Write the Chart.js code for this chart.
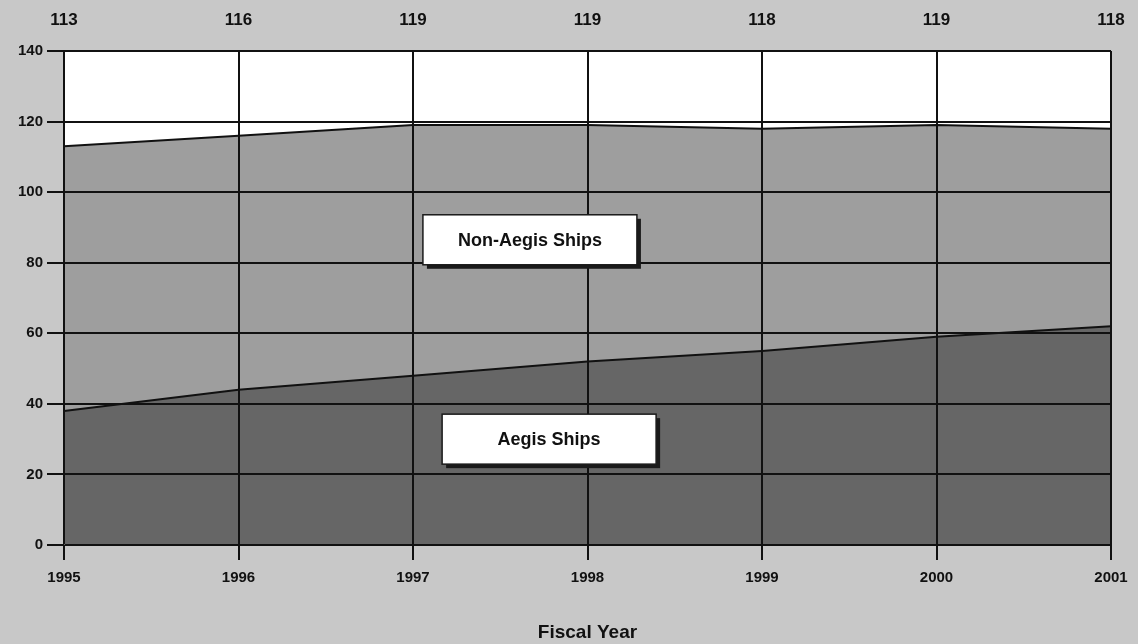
<!DOCTYPE html>
<html>
<head>
<meta charset="utf-8">
<script src="https://cdn.jsdelivr.net/npm/chart.js@4"></script>
<style>
  html, body { margin: 0; padding: 0; background: #c8c8c8; }
  #wrap { width: 1138px; height: 644px; }
</style>
</head>
<body>
<div id="wrap"><canvas id="shipsChart" width="1138" height="644"></canvas></div>
<script>
// Fiscal years and ship counts
const years = ["1995", "1996", "1997", "1998", "1999", "2000", "2001"];
const totals = [113, 116, 119, 119, 118, 119, 118];
const aegis = [38, 44, 48, 52, 55, 59, 62];
const nonAegis = totals.map((t, i) => t - aegis[i]);

const labelFont = { family: "'Liberation Sans', Arial, sans-serif", weight: "bold" };

// white plot background behind the areas
const plotBg = {
    id: "plotBg",
    beforeDraw(chart) {
        const { ctx, chartArea: a } = chart;
        ctx.save();
        ctx.fillStyle = "#ffffff";
        ctx.fillRect(a.left, a.top, a.right - a.left, a.bottom - a.top);
        ctx.restore();
    }
};

// grid lines sit on top of the shaded areas in the original
const gridOnTop = {
    id: "gridOnTop",
    afterDatasetsDraw(chart) {
        chart.scales.x.drawGrid(chart.chartArea);
        chart.scales.y.drawGrid(chart.chartArea);
    }
};

// boxed series labels with a drop shadow
const boxLabels = {
    id: "boxLabels",
    afterDraw(chart, args, opts) {
        const { ctx, scales } = chart;
        opts.items.forEach(item => {
            const cx = scales.x.getPixelForValue(item.x);
            const cy = scales.y.getPixelForValue(item.y);
            const w = 214, h = 50;
            const l = cx - w / 2, t = cy - h / 2;
            ctx.save();
            ctx.fillStyle = "#1a1a1a";
            ctx.fillRect(l + 4, t + 4, w, h);
            ctx.fillStyle = "#ffffff";
            ctx.fillRect(l, t, w, h);
            ctx.strokeStyle = "#1a1a1a";
            ctx.lineWidth = 1.5;
            ctx.strokeRect(l, t, w, h);
            ctx.fillStyle = "#111";
            ctx.font = "bold 18px 'Liberation Sans', Arial, sans-serif";
            ctx.textAlign = "center";
            ctx.textBaseline = "middle";
            ctx.fillText(item.text, cx, cy + 1);
            ctx.restore();
        });
    }
};

// keep the end labels from pushing the plot edges inward
function noSidePad(scale) {
    scale.paddingLeft = 0;
    scale.paddingRight = 0;
}

const ctx = document.getElementById("shipsChart").getContext("2d");
new Chart(ctx, {
    type: "line",
    data: {
        labels: years,
        datasets: [
            {
                label: "Aegis Ships",
                data: aegis,
                backgroundColor: "#666666",
                borderColor: "#111",
                borderWidth: 2,
                pointRadius: 0,
                fill: "origin",
                tension: 0
            },
            {
                label: "Non-Aegis Ships",
                data: nonAegis,
                backgroundColor: "#9e9e9e",
                borderColor: "#111",
                borderWidth: 2,
                pointRadius: 0,
                fill: "-1",
                tension: 0
            }
        ]
    },
    options: {
        responsive: false,
        animation: false,
        layout: { padding: { top: 0, right: 27, left: 0, bottom: 0 } },
        plugins: {
            legend: { display: false },
            tooltip: { enabled: false },
            boxLabels: {
                items: [
                    { text: "Non-Aegis Ships", x: 2.67, y: 86.5 },
                    { text: "Aegis Ships", x: 2.78, y: 30 }
                ]
            }
        },
        scales: {
            x: {
                position: "bottom",
                offset: false,
                grid: { color: "#111", lineWidth: 2, tickLength: 15, tickColor: "#111" },
                border: { color: "#111", width: 2 },
                ticks: { color: "#111", font: { ...labelFont, size: 15 }, padding: 9, maxRotation: 0 },
                title: { display: true, text: "Fiscal Year", color: "#111", font: { ...labelFont, size: 19 }, padding: 0 },
                afterFit(scale) { scale.height = 99; noSidePad(scale); }
            },
            xTop: {
                type: "category",
                labels: years,
                position: "top",
                offset: false,
                grid: { display: false, drawTicks: false },
                border: { display: false },
                ticks: {
                    color: "#111",
                    font: { ...labelFont, size: 17 },
                    padding: 20,
                    maxRotation: 0,
                    callback: (v, i) => totals[i]
                },
                afterFit(scale) { scale.height = 51; noSidePad(scale); }
            },
            y: {
                stacked: true,
                min: 0,
                max: 140,
                grid: { color: "#111", lineWidth: 2, tickLength: 17, tickColor: "#111" },
                border: { color: "#111", width: 2 },
                ticks: { stepSize: 20, color: "#111", font: { ...labelFont, size: 15 }, padding: 4 },
                afterFit(scale) { scale.width = 64; }
            }
        }
    },
    plugins: [plotBg, gridOnTop, boxLabels]
});
</script>
</body>
</html>
